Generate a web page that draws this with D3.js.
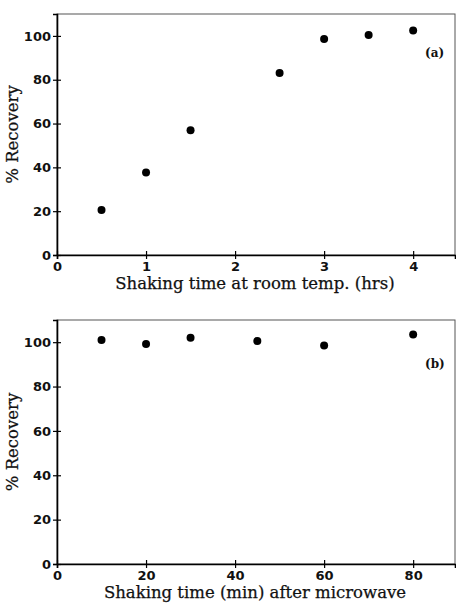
<!DOCTYPE html>
<html>
<head>
<meta charset="utf-8">
<script src="https://d3js.org/d3.v7.min.js"></script>
<style>
    body { margin: 0; background: #fff; }
    .tick text { font-family: "DejaVu Sans", sans-serif; font-weight: bold; font-size: 13px; fill: #111; }
    .title { font-family: "DejaVu Serif", serif; font-size: 16.5px; fill: #111; stroke: #111; stroke-width: 0.25; }
    .frame { fill: none; stroke: #555; stroke-width: 1; }
</style>
</head>
<body>
<div id="chart"></div>
<script>
    // panel (a): shaking time at room temperature
    var hoursA = [0.5, 1, 1.5, 2.5, 3, 3.5, 4];
    var recoveryA = [20.5, 37.7, 56.9, 83.1, 98.6, 100.4, 102.5];
    var xTicksA = [0, 1, 2, 3, 4];

    // panel (b): shaking time after microwave
    var minutesB = [10, 20, 30, 45, 60, 80];
    var recoveryB = [101, 99.2, 102, 100.5, 98.5, 103.5];
    var xTicksB = [0, 20, 40, 60, 80];

    var yTicks = [0, 20, 40, 60, 80, 100];

    var svg = d3.select("#chart").append("svg")
        .attr("width", 456)
        .attr("height", 607);

    function panel(top, xs, ys, xDomain, xTicks, xTitle, tag, tagY, h) {
        var left = 57, width = 398, height = h;
        var g = svg.append("g").attr("transform", "translate(" + left + "," + top + ")");

        var x = d3.scaleLinear().domain(xDomain).range([0, width]);
        var y = d3.scaleLinear().domain([0, 110]).range([height, 0]);

        g.append("rect").attr("class", "frame")
            .attr("x", 0).attr("y", 0).attr("width", width).attr("height", height);

        var xa = g.append("g").attr("transform", "translate(0," + height + ")")
            .call(d3.axisBottom(x).tickValues(xTicks).tickFormat(d3.format("d")).tickSize(4).tickPadding(3));
        xa.selectAll(".tick line").attr("y1", -4).attr("stroke-width", 1.2);
        xa.select(".domain").attr("stroke-width", 1.6);

        var ya = g.append("g")
            .call(d3.axisLeft(y).tickValues(yTicks).tickSize(4).tickPadding(2));
        ya.selectAll(".tick line").attr("x1", 4).attr("stroke-width", 1.2);
        ya.select(".domain").attr("stroke-width", 1.6);

        g.selectAll("circle.pt")
            .data(xs.map(function (d, i) { return [d, ys[i]]; }))
            .enter().append("circle")
            .attr("class", "pt")
            .attr("cx", function (d) { return x(d[0]); })
            .attr("cy", function (d) { return y(d[1]); })
            .attr("r", 4)
            .attr("fill", "#000");

        g.append("text").attr("class", "title")
            .attr("x", 198).attr("y", height + 34)
            .attr("text-anchor", "middle")
            .text(xTitle);

        g.append("text").attr("class", "title")
            .attr("transform", "translate(-39," + (height / 2) + ") rotate(-90)")
            .attr("text-anchor", "middle")
            .text("% Recovery");

        g.append("text").attr("class", "title")
            .attr("x", 368).attr("y", tagY)
            .style("font-size", "12px")
            .style("font-weight", "bold")
            .style("stroke-width", 0)
            .text(tag);
    }

    panel(14, hoursA, recoveryA, [0, 4.47], xTicksA, "Shaking time at room temp. (hrs)", "(a)", 43, 241);
    panel(320, minutesB, recoveryB, [0, 89.4], xTicksB, "Shaking time (min) after microwave", "(b)", 48, 244);
</script>
</body>
</html>
